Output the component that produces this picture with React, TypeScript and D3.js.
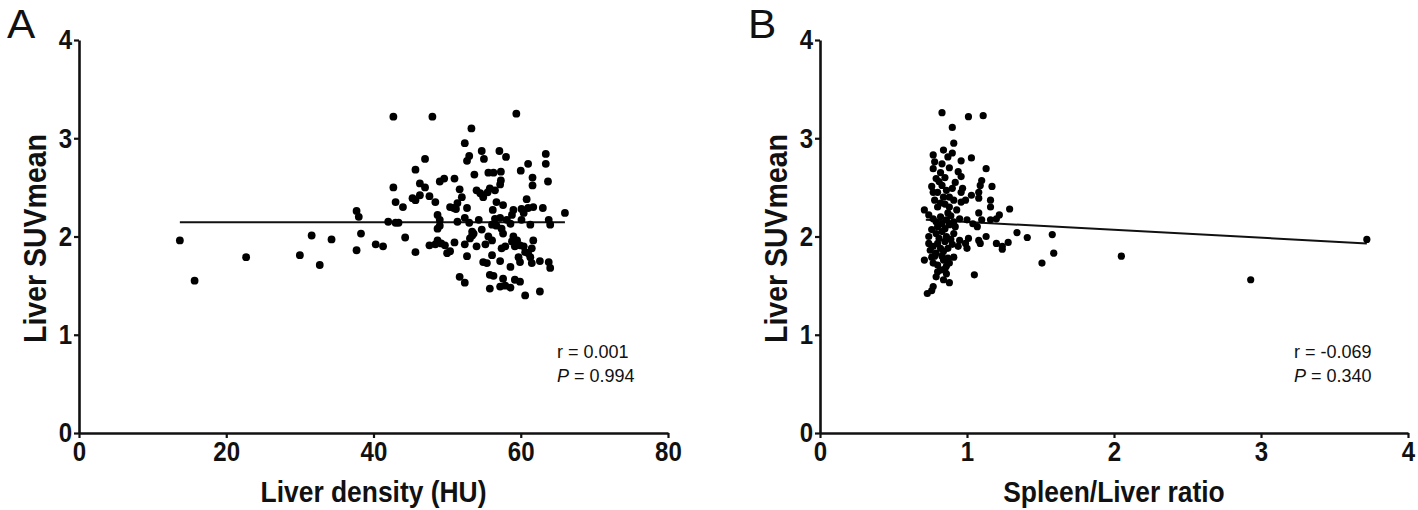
import React, { useEffect, useRef } from "react";
import * as d3 from "d3";

// Panel A: Liver density (HU) vs Liver SUVmean
const densityA = [
  13.7, 15.7, 22.7, 30.0, 31.6, 32.7, 34.3, 37.7, 38.0, 38.3, 37.7, 40.3, 41.3, 42.7, 42.7, 43.0, 42.0, 43.0, 43.4, 44.0,
  44.3, 45.7, 45.7, 47.0, 46.3, 47.0, 45.3, 45.7, 46.3, 47.6, 47.6, 48.0,
  53.3, 52.4, 53.0, 52.7, 53.7, 49.0, 49.6, 51.0, 51.7, 48.4, 50.4, 50.9, 51.4, 51.2, 52.0, 52.7, 48.7, 49.0,
  49.0, 48.7, 51.4, 52.4, 53.0, 48.4, 48.7, 49.2, 49.7, 50.4, 50.0, 51.0, 52.4, 53.1, 53.6, 53.4, 52.7, 51.7, 52.4,
  59.4, 54.7, 55.0, 57.1, 58.0, 63.4, 63.4, 61.0, 60.0, 55.6, 56.3, 57.3, 57.3, 57.2, 61.6, 61.6, 63.7, 54.0, 54.5,
  54.9, 55.5, 55.8, 56.5, 56.7, 57.6, 56.2, 59.0, 58.8, 60.8, 61.0, 61.7, 63.0, 66.0, 60.1, 60.4, 54.3, 56.5, 57.2,
  58.1, 58.6, 60.1, 61.3, 63.8, 64.0, 56.7, 57.4, 56.1, 54.7, 53.4, 55.6, 55.2, 54.0, 56.1, 57.6, 57.9, 57.4, 59.0,
  58.8, 59.5, 59.9, 59.2, 60.4, 61.7, 61.0, 60.6, 61.3, 56.1, 54.9, 55.4, 57.2, 58.6, 59.9, 61.5, 62.6, 63.8, 64.0,
  59.7, 55.8, 56.3, 57.6, 59.2, 59.9, 55.8, 57.2, 57.9, 58.6, 60.6, 62.6, 61.5
];
const suvA = [
  1.96, 1.55, 1.79, 1.81, 2.01, 1.71, 1.97, 2.26, 2.20, 2.03, 1.86, 1.92, 1.90, 3.22, 2.50, 2.35, 2.15, 2.14, 2.14, 2.30,
  1.99, 1.84, 2.68, 2.79, 2.54, 2.50, 2.39, 2.37, 2.42, 2.41, 1.91, 3.22,
  3.10, 2.95, 2.82, 2.77, 2.63, 2.56, 2.59, 2.59, 2.48, 2.35, 2.30, 2.29, 2.34, 2.28, 2.40, 2.29, 2.22, 2.17,
  2.11, 2.08, 2.15, 2.19, 2.14, 1.92, 1.96, 1.93, 1.91, 1.85, 1.83, 1.94, 1.92, 1.98, 2.03, 2.05, 1.80, 1.59, 1.53,
  3.25, 2.87, 2.79, 2.87, 2.81, 2.84, 2.74, 2.74, 2.67, 2.65, 2.65, 2.66, 2.57, 2.53, 2.60, 2.52, 2.56, 2.47, 2.44,
  2.40, 2.45, 2.49, 2.47, 2.35, 2.32, 2.27, 2.27, 2.22, 2.38, 2.29, 2.30, 2.29, 2.24, 2.28, 2.24, 2.17, 2.18, 2.19,
  2.17, 2.13, 2.17, 2.12, 2.17, 2.12, 2.11, 2.08, 2.12, 2.07, 2.01, 2.00, 1.92, 1.90, 1.96, 2.03, 1.90, 1.88, 2.00,
  1.95, 1.96, 1.91, 1.90, 1.90, 1.96, 1.83, 1.84, 1.79, 1.81, 1.74, 1.73, 1.75, 1.69, 1.74, 1.73, 1.75, 1.74, 1.68,
  1.79, 1.61, 1.60, 1.57, 1.56, 1.54, 1.47, 1.49, 1.50, 1.48, 1.40, 1.44, 1.88
];
const fitA = [[13.7, 2.145], [66.0, 2.145]];

// Panel B: Spleen/Liver ratio vs Liver SUVmean
const ratioB = [
  0.83, 1.01, 1.11, 0.90, 0.91, 0.84, 0.90, 0.87, 0.77, 0.78, 0.83, 0.77, 0.96, 1.03, 1.13, 0.94, 0.96, 0.79, 0.81, 0.76,
  0.83, 0.77, 0.86, 0.90, 0.97, 0.96, 1.10, 1.09, 1.08, 1.08, 1.17, 1.16, 1.16, 1.22, 1.29, 1.03, 0.99, 0.96, 0.91, 0.78,
  0.84, 0.82, 0.88, 0.93, 0.87, 0.71, 0.74, 0.77, 0.79, 0.83, 0.86, 0.91, 0.95, 1.00, 1.04, 1.10, 1.16, 1.20, 1.08, 1.07,
  0.76, 0.79, 0.74, 0.83, 0.86, 0.91, 0.95, 0.99, 1.01, 0.94, 1.00, 1.09, 1.13, 1.08, 1.20, 1.24, 1.28, 0.74, 0.75, 0.77,
  0.79, 0.82, 0.76, 0.71, 0.77, 0.80, 0.84, 0.87, 0.91, 0.88, 0.82, 0.86, 0.79, 0.84, 0.88, 0.77, 0.76, 0.73, 1.05, 1.34,
  1.41, 1.58, 1.59, 1.51, 1.24, 2.05, 2.93, 3.72,
  0.80, 0.82, 0.85, 0.88, 0.81, 0.85, 0.89, 0.80, 0.84, 0.87, 0.90, 0.78, 0.83, 0.86, 0.80, 0.85, 0.89, 0.92, 0.80, 0.88,
  0.92, 0.85, 0.82, 0.88, 0.80, 0.85
];
const suvB = [
  3.26, 3.22, 3.23, 3.11, 2.95, 2.88, 2.85, 2.81, 2.83, 2.76, 2.74, 2.69, 2.77, 2.80, 2.69, 2.66, 2.61, 2.59, 2.56, 2.51,
  2.52, 2.45, 2.47, 2.49, 2.49, 2.45, 2.57, 2.52, 2.45, 2.39, 2.51, 2.37, 2.30, 2.22, 2.28, 2.42, 2.37, 2.35, 2.37, 2.37,
  2.40, 2.34, 2.30, 2.27, 2.24, 2.27, 2.22, 2.18, 2.15, 2.13, 2.17, 2.15, 2.18, 2.17, 2.13, 2.17, 2.17, 2.18, 2.24, 2.10,
  2.07, 2.03, 2.00, 2.05, 2.00, 2.03, 1.96, 1.93, 1.98, 1.90, 1.88, 1.93, 2.00, 1.96, 1.93, 1.90, 1.94, 1.93, 1.86, 1.90,
  1.83, 1.88, 1.79, 1.76, 1.73, 1.71, 1.76, 1.78, 1.79, 1.73, 1.66, 1.62, 1.59, 1.56, 1.53, 1.49, 1.45, 1.42, 1.61, 2.04,
  1.99, 2.02, 1.83, 1.73, 1.87, 1.80, 1.56, 1.97,
  2.10, 2.20, 2.08, 2.12, 1.98, 1.95, 1.97, 1.93, 1.85, 1.88, 1.92, 1.80, 1.80, 1.70, 2.30, 2.33, 2.21, 2.10, 2.45, 2.40,
  2.55, 2.60, 2.65, 2.70, 1.64, 1.67
];
const fitB = [[0.72, 2.17], [3.72, 1.93]];

const yTicks = [0, 1, 2, 3, 4];
const xTicksA = [0, 20, 40, 60, 80];
const xTicksB = [0, 1, 2, 3, 4];

const FONT = "'Liberation Sans', Arial, sans-serif";

type PanelCfg = {
  letter: string;
  left: number;
  right: number;
  xDomain: [number, number];
  xTicks: number[];
  xTitle: string;
  xs: number[];
  ys: number[];
  fit: number[][];
  r: string;
  p: string;
  statX: number;
  dotR: number;
};

const panels: PanelCfg[] = [
  { letter: "A", left: 79, right: 668, xDomain: [0, 80], xTicks: xTicksA, xTitle: "Liver density (HU)", xs: densityA, ys: suvA, fit: fitA, r: "r = 0.001", p: "0.994", statX: 557, dotR: 3.9 },
  { letter: "B", left: 820, right: 1408, xDomain: [0, 4], xTicks: xTicksB, xTitle: "Spleen/Liver ratio", xs: ratioB, ys: suvB, fit: fitB, r: "r = -0.069", p: "0.340", statX: 1294, dotR: 3.6 },
];

export default function App() {
  const ref = useRef<SVGSVGElement>(null);
  useEffect(() => {
    const svg = d3.select(ref.current);
    svg.selectAll("*").remove();
    const top = 40, bottom = 433;
    svg.append("rect").attr("width", 1418).attr("height", 510).attr("fill", "#ffffff");
    panels.forEach((cfg) => {
      const g = svg.append("g");
      const x = d3.scaleLinear().domain(cfg.xDomain).range([cfg.left, cfg.right]);
      const y = d3.scaleLinear().domain([0, 4]).range([bottom, top]);

      // axes
      const yAxis = d3.axisLeft(y).tickValues(yTicks).tickSize(5).tickSizeOuter(0).tickPadding(3).tickFormat(d3.format("d"));
      const gy = g.append("g").attr("transform", `translate(${cfg.left},0)`).call(yAxis);
      const xAxis = d3.axisBottom(x).tickValues(cfg.xTicks).tickSize(5).tickSizeOuter(0).tickPadding(3).tickFormat(d3.format("d"));
      const gx = g.append("g").attr("transform", `translate(0,${bottom})`).call(xAxis);
      [gy, gx].forEach((a) => {
        a.select(".domain").attr("stroke", "#111").attr("stroke-width", 2.6);
        a.selectAll(".tick line").attr("stroke", "#111").attr("stroke-width", 2.2);
        a.selectAll(".tick text")
          .attr("fill", "#111")
          .attr("transform", "scale(0.86,1)")
          .style("font-family", FONT)
          .style("font-weight", "bold")
          .style("font-size", "28px");
      });

      // axis titles
      g.append("g")
        .attr("transform", `translate(${(cfg.left + cfg.right) / 2},502) scale(0.88,1)`)
        .append("text")
        .attr("text-anchor", "middle")
        .style("font-family", FONT)
        .style("font-weight", "bold")
        .style("font-size", "30px")
        .attr("fill", "#111")
        .text(cfg.xTitle);
      g.append("g")
        .attr("transform", `translate(${cfg.left - 33},${(top + bottom) / 2 + 2}) rotate(-90) scale(0.89,1)`)
        .append("text")
        .attr("text-anchor", "middle")
        .style("font-family", FONT)
        .style("font-weight", "bold")
        .style("font-size", "32px")
        .attr("fill", "#111")
        .text("Liver SUVmean");

      // panel letter
      g.append("g")
        .attr("transform", `translate(${cfg.left - 72},38) scale(1.06,1)`)
        .append("text")
        .style("font-family", FONT)
        .style("font-size", "40px")
        .attr("fill", "#111")
        .text(cfg.letter);

      // fit line
      const line = d3.line<number[]>().x((d) => x(d[0])).y((d) => y(d[1]));
      g.append("path").attr("d", line(cfg.fit) || "").attr("fill", "none").attr("stroke", "#111").attr("stroke-width", 2);

      // points
      g.append("g")
        .selectAll("circle")
        .data(cfg.xs.map((v, i) => [v, cfg.ys[i]]))
        .join("circle")
        .attr("cx", (d) => x(d[0]))
        .attr("cy", (d) => y(d[1]))
        .attr("r", cfg.dotR)
        .attr("fill", "#000");

      // stats
      const st = g.append("g").style("font-family", FONT).style("font-size", "18px").attr("fill", "#111");
      st.append("text").attr("x", cfg.statX).attr("y", 358).text(cfg.r);
      const pt = st.append("text").attr("x", cfg.statX).attr("y", 382);
      pt.append("tspan").style("font-style", "italic").text("P");
      pt.append("tspan").text(" = " + cfg.p);
    });
  }, []);
  return (
    <svg ref={ref} width={1418} height={510} style={{ position: "absolute", left: 0, top: 0 }} />
  );
}
